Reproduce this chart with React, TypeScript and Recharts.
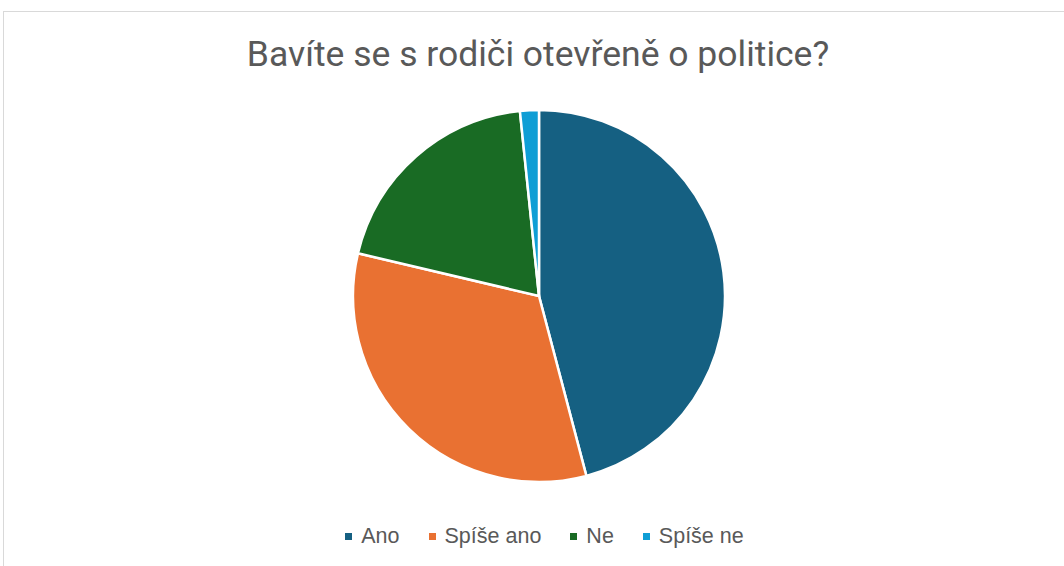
import React from "react";
import { PieChart, Pie, Cell } from "recharts";

const categories = ["Ano", "Spíše ano", "Ne", "Spíše ne"];
const values = [28, 20, 12, 1];
const colors = ["#156082", "#E97132", "#196B24", "#0F9ED5"];
const title = "Bavíte se s rodiči otevřeně o politice?";

const data = categories.map((name, i) => ({ name, value: values[i] }));

function LegendBox() {
  return (
    <div style={{ position: "absolute", left: 0, top: 522, width: 1089, display: "flex", justifyContent: "center", alignItems: "center", fontFamily: "'Liberation Sans', Arial, sans-serif", fontSize: 21.5, color: "#595959", lineHeight: "28px" }}>
      {categories.map((c, i) => (
        <div key={c} style={{ display: "flex", alignItems: "center", marginRight: i < categories.length - 1 ? 29 : 0 }}>
          <span style={{ display: "inline-block", width: 7, height: 7, background: colors[i], marginRight: 9 }} />
          <span>{c}</span>
        </div>
      ))}
    </div>
  );
}

export default function App() {
  return (
    <div style={{ position: "absolute", left: 0, top: 0, width: 1064, height: 566, background: "#fff", overflow: "hidden" }}>
      <div style={{ position: "absolute", left: 3, top: 11, width: 1100, height: 600, borderLeft: "1px solid #d9d9d9", borderTop: "1px solid #d9d9d9" }} />
      <div style={{ position: "absolute", left: 0, top: 32, width: 1076, textAlign: "center", fontFamily: "Roboto, 'Open Sans', sans-serif", fontSize: 35.5, color: "#595959", lineHeight: "44px" }}>
        {title}
      </div>
      <div style={{ position: "absolute", left: 0, top: 0 }}>
        <PieChart width={1064} height={566} margin={{ top: 0, right: 0, bottom: 0, left: 0 }}>
          <Pie
            data={data}
            dataKey="value"
            nameKey="name"
            cx={539}
            cy={296}
            outerRadius={186}
            startAngle={90}
            endAngle={-270}
            stroke="#ffffff"
            strokeWidth={2.5}
            isAnimationActive={false}
          >
            {data.map((d, i) => (
              <Cell key={d.name} fill={colors[i]} />
            ))}
          </Pie>
        </PieChart>
      </div>
      <LegendBox />
    </div>
  );
}
